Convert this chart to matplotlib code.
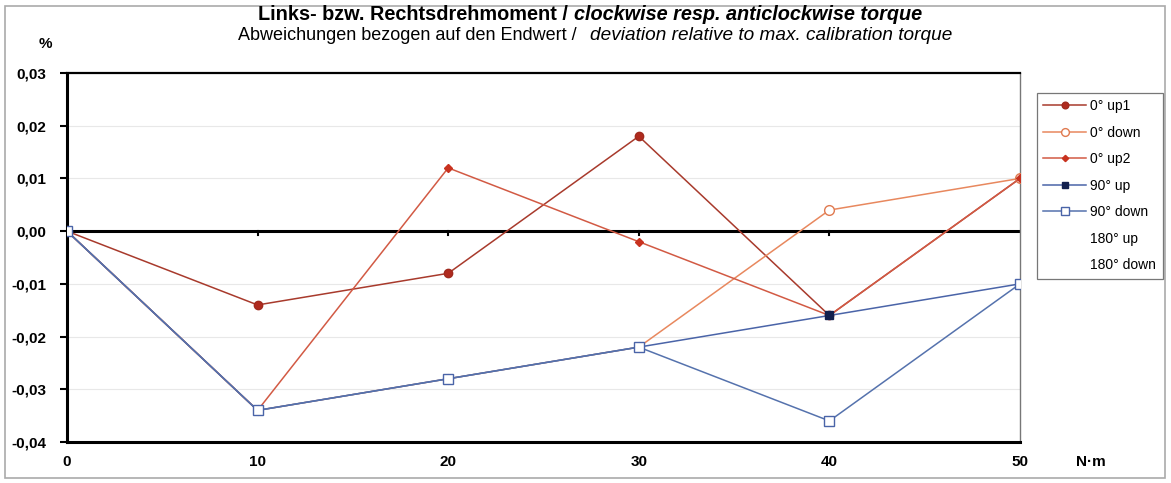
import matplotlib.pyplot as plt
from matplotlib.patches import Rectangle

plt.rcParams['font.family'] = ['Liberation Sans', 'DejaVu Sans']

torque = [0, 10, 20, 30, 40, 50]
up1_0 = [0.0, -0.014, -0.008, 0.018, -0.016, 0.010]
down_0 = [0.0, -0.034, -0.028, -0.022, 0.004, 0.010]
up2_0 = [0.0, -0.034, 0.012, -0.002, -0.016, 0.010]
up_90 = [0.0, -0.034, -0.028, -0.022, -0.016, -0.010]
down_90 = [0.0, -0.034, -0.028, -0.022, -0.036, -0.010]

y_ticks = [0.03, 0.02, 0.01, 0.0, -0.01, -0.02, -0.03, -0.04]
y_labels = ['0,03', '0,02', '0,01', '0,00', '-0,01', '-0,02', '-0,03', '-0,04']

W, H = 1171, 483
fig = plt.figure(figsize=(W / 100, H / 100), dpi=100)
ax = fig.add_axes([67 / W, 1 - 442 / H, (1020 - 67) / W, (442 - 73) / H])

# faint grid + bold zero line
for v in y_ticks:
    ax.axhline(v, color='#e8e8e8', lw=0.8, zorder=0)
ax.axhline(0, color='black', lw=2.2, zorder=1)

ax.plot(torque, up1_0, color='#a83a2c', lw=1.1, marker='o', ms=6,
        mfc='#b02a1e', mec='#a02a1e', label='0° up1', zorder=3)
ax.plot(torque, down_0, color='#e8885e', lw=1.1, marker='o', ms=7,
        mfc='white', mec='#e07a50', label='0° down', zorder=3)
ax.plot(torque, up2_0, color='#d25a44', lw=1.1, marker='D', ms=4,
        mfc='#c8321f', mec='#c8321f', label='0° up2', zorder=3)
ax.plot(torque, up_90, color='#4a64a8', lw=1.1, marker='s', ms=6,
        mfc='#12204e', mec='#12204e', label='90° up', zorder=3)
ax.plot(torque, down_90, color='#5572ad', lw=1.1, marker='s', ms=7.5,
        mfc='white', mec='#4a64a8', label='90° down', zorder=4)
ax.plot([], [], ' ', label='180° up')
ax.plot([], [], ' ', label='180° down')

ax.set_xlim(0, 50)
ax.set_ylim(-0.04, 0.03)
ax.set_xticks(torque)
ax.set_xticklabels([str(t) for t in torque], fontweight='bold', fontsize=11)
ax.set_yticks(y_ticks)
ax.set_yticklabels(y_labels, fontweight='bold', fontsize=11)
ax.tick_params(axis='y', direction='out', length=5, width=1.5, pad=10)
ax.tick_params(axis='x', length=0, pad=9)
# small tick marks on the zero line
for t in torque[1:-1]:
    ax.plot([t, t], [0, -0.0008], color='black', lw=1.5, zorder=2)

ax.spines['left'].set_linewidth(2.2)
ax.spines['bottom'].set_linewidth(2.2)
ax.spines['top'].set_linewidth(1.6)
ax.spines['right'].set_linewidth(1.0)
ax.spines['right'].set_color('#777777')

fig.text(45 / W, 1 - 44 / H, '%', fontweight='bold', fontsize=11, ha='center', va='center')
fig.text(1091 / W, 1 - 462 / H, 'N·m', fontweight='bold', fontsize=11, ha='center', va='center')

# title and subtitle: upright part + italic part
fig.text(568 / W, 1 - 14 / H, 'Links- bzw. Rechtsdrehmoment /', fontweight='bold',
         fontsize=14.3, ha='right', va='center')
fig.text(574 / W, 1 - 14 / H, 'clockwise resp. anticlockwise torque', fontweight='bold',
         style='italic', fontsize=14.3, ha='left', va='center')
fig.text(577 / W, 1 - 36 / H, 'Abweichungen bezogen auf den Endwert /',
         fontsize=13, ha='right', va='center')
fig.text(590 / W, 1 - 36 / H, 'deviation relative to max. calibration torque',
         style='italic', fontsize=13.7, ha='left', va='center')

leg = fig.legend(loc='upper left', bbox_to_anchor=(1037 / W, 1 - 93 / H),
                 fontsize=10, frameon=True, fancybox=False, edgecolor='#555555',
                 handlelength=3.1, labelspacing=0.9, borderpad=0.45,
                 handletextpad=0.3, markerscale=0.8, borderaxespad=0)
leg.get_frame().set_linewidth(0.9)

fig.patches.append(Rectangle((5 / W, 5 / H), 1160 / W, 472 / H, transform=fig.transFigure,
                             fill=False, edgecolor='#aaaaaa', lw=1.2))

fig.savefig('out.png', dpi=100)
